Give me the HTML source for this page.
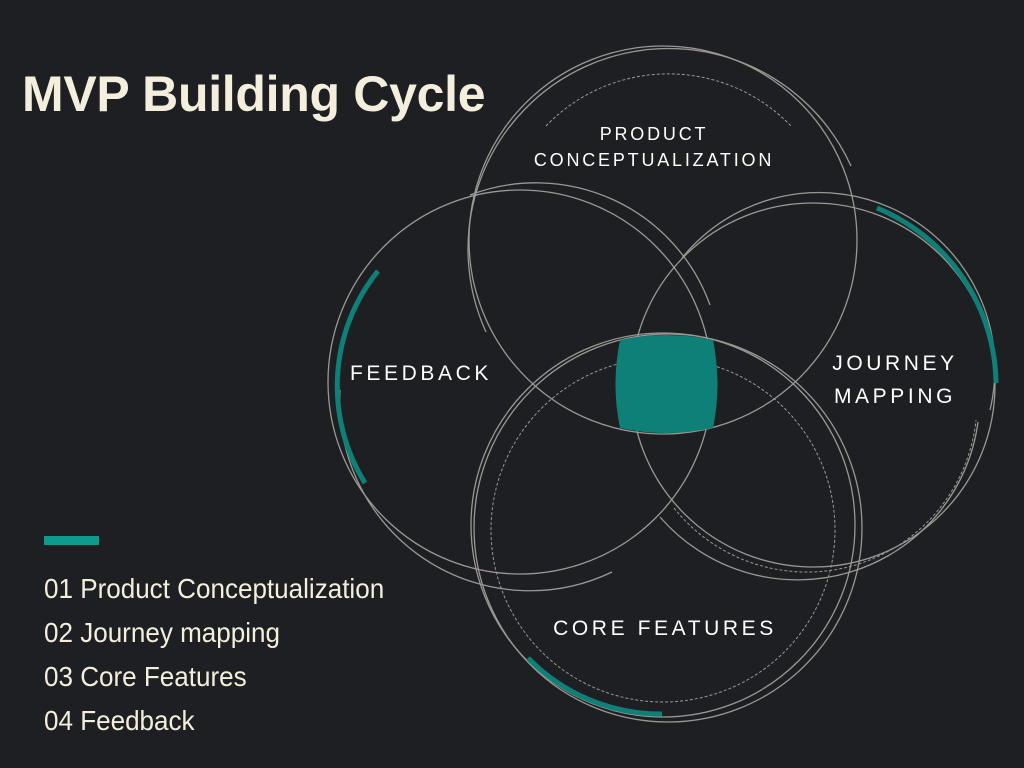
<!DOCTYPE html>
<html><head><meta charset="utf-8"><style>
html,body{margin:0;padding:0;background:#1e1f23;}
body{width:1024px;height:768px;position:relative;overflow:hidden;font-family:"Liberation Sans",sans-serif;}
h1{position:absolute;left:22px;top:65px;margin:0;font-size:50px;font-weight:bold;color:#f3efdc;letter-spacing:-0.3px;}
.bar{position:absolute;left:44px;top:536px;width:55px;height:9px;background:#0f9a8e;}
.list{position:absolute;left:44px;top:567px;color:#f3efdc;font-size:28px;line-height:44px;font-family:"Liberation Sans",sans-serif;transform:scaleX(0.93);transform-origin:left;}
svg{position:absolute;left:0;top:0;}
svg text{font-family:"Liberation Sans",sans-serif;fill:#fff;font-size:21px;letter-spacing:3.6px;}
</style></head><body>
<h1>MVP Building Cycle</h1>
<div class="bar"></div>
<div class="list">01 Product Conceptualization<br>02 Journey mapping<br>03 Core Features<br>04 Feedback</div>
<svg width="1024" height="768" viewBox="0 0 1024 768">
<g fill="none" stroke="#9a9892" stroke-width="1.3">
<circle cx="663" cy="240" r="194"/>
<path d="M486 332 A185 185 0 0 1 851 166"/>
<path d="M546 126 A170 170 0 0 1 791 126" stroke-dasharray="3 2" stroke-width="1"/>
<circle cx="520" cy="382" r="192"/>
<path d="M470 195 A185 185 0 0 1 710 305"/>
<path d="M340 390 A190 190 0 0 0 612 572"/>
<circle cx="813" cy="385" r="182"/>
<path d="M682 258 A176 176 0 0 1 990 410"/>
<path d="M674 508 A170 170 0 0 0 976 420" stroke-dasharray="3 2" stroke-width="1"/>
<path d="M660 517 A182 182 0 0 0 978 422"/>
<circle cx="663" cy="525" r="192"/>
<circle cx="668" cy="528" r="194"/>
<circle cx="663" cy="530" r="172" stroke-dasharray="3 2" stroke-width="1"/>
</g>
<g fill="none" stroke="#0f8077" stroke-width="5">
<path d="M378 271 A183 183 0 0 0 365 483"/>
<path d="M877 208 A192 192 0 0 1 996 383"/>
<path d="M528 658 A185 185 0 0 0 662 714"/>
</g>
<path d="M620 340 Q666 330 713 340 Q722 385 713 428 Q666 438 620 428 Q611 385 620 340Z" fill="#0f8077"/>
<text x="654" y="140" text-anchor="middle" style="font-size:18px;letter-spacing:2.8px">PRODUCT</text>
<text x="654" y="166" text-anchor="middle" style="font-size:18px;letter-spacing:2.8px">CONCEPTUALIZATION</text>
<text x="421" y="380" text-anchor="middle">FEEDBACK</text>
<text x="895" y="370" text-anchor="middle">JOURNEY</text>
<text x="895" y="403" text-anchor="middle">MAPPING</text>
<text x="665" y="635" text-anchor="middle">CORE FEATURES</text>
</svg>
</body></html>
